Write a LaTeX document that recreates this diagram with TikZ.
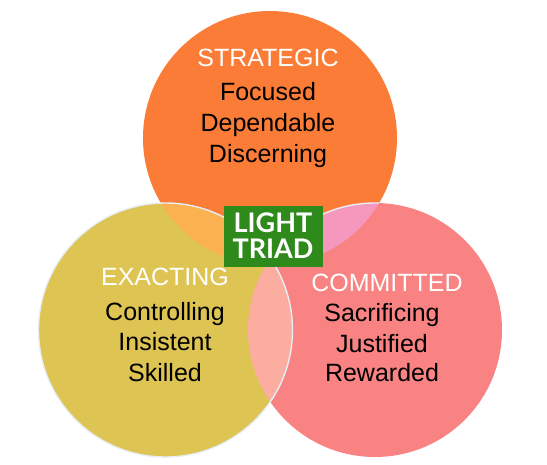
\documentclass[tikz,border=0pt]{standalone}
\usepackage{fontspec}
\setmainfont{Liberation Sans}
\newfontfamily\boxfont{Lato}
\definecolor{corange}{HTML}{FB7C37}
\definecolor{cyellow}{HTML}{DEC452}
\definecolor{cpink}{HTML}{F98282}
\definecolor{otl}{HTML}{FBB14F}
\definecolor{otr}{HTML}{F698BE}
\definecolor{olr}{HTML}{FBAE9F}
\definecolor{otri}{HTML}{F9B49A}
\definecolor{cgreen}{HTML}{2E8A1B}
\definecolor{rim}{HTML}{E6EFF7}
\begin{document}
\begin{tikzpicture}[x=1pt,y=-1pt,
  rimline/.style={draw=rim,line width=1.4pt},
  head/.style={anchor=base,text=white,font=\fontsize{25}{25}\selectfont,inner sep=0pt},
  item/.style={anchor=base,text=black,font=\fontsize{25}{25}\selectfont,inner sep=0pt},
  boxtxt/.style={anchor=base,text=white,font=\boxfont\bfseries\fontsize{27}{27}\selectfont,inner sep=0pt}]
\useasboundingbox (0,0) rectangle (547,464);
\def\R{127}
\coordinate (T) at (270,138);
\coordinate (L) at (165.5,330);
\coordinate (Rc) at (375,330);
% base circles
\fill[corange] (T) circle (\R);
\fill[cpink] (Rc) circle (\R);
\fill[cyellow] (L) circle (\R);
% overlaps
\begin{scope}
  \clip (T) circle (\R);
  \fill[otl] (L) circle (\R);
  \fill[otr] (Rc) circle (\R);
\end{scope}
\begin{scope}
  \clip (L) circle (\R);
  \fill[olr] (Rc) circle (\R);
  \clip (T) circle (\R);
  \fill[otri] (Rc) circle (\R);
\end{scope}
% rims
\begin{scope}
  \clip (T) circle (\R);
  \draw[rimline] (Rc) circle (\R);
\end{scope}
\draw[rimline] (L) circle (\R);
% texts top
\node[head] (strat) at (268,66.7) {STRATEGIC};
\node[item] (foc) at (268,100) {Focused};
\node[item] (dep) at (268,131) {Dependable};
\node[item] (dis) at (268,162) {Discerning};
% left
\node[head] (exa) at (165,285) {EXACTING};
\node[item] (con) at (165,320) {Controlling};
\node[item] (ins) at (165,350) {Insistent};
\node[item] (ski) at (165,381) {Skilled};
% right
\node[head] (com) at (387,291) {COMMITTED};
\node[item] (sac) at (382,321) {Sacrificing};
\node[item] (jus) at (382,352) {Justified};
\node[item] (rew) at (382,381) {Rewarded};
% box
\fill[cgreen] (224,206) rectangle (323,267);
\node[boxtxt] (light) at (273,232.5) {LIGHT};
\node[boxtxt] (triad) at (273,258.5) {TRIAD};
\end{tikzpicture}
\end{document}
